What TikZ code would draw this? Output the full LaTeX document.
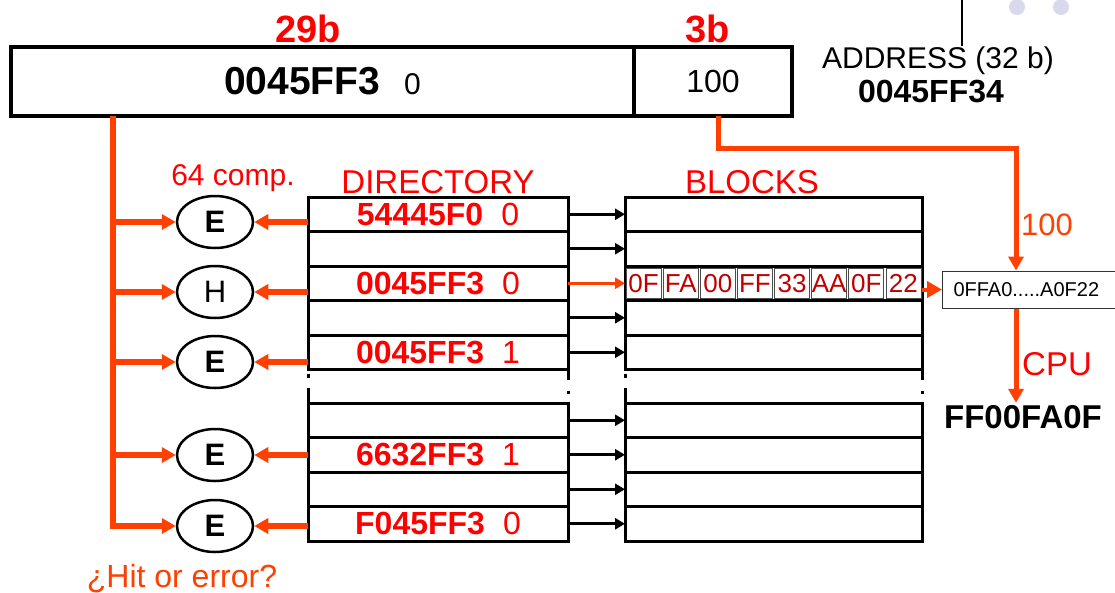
\documentclass[tikz,border=0pt]{standalone}
\usepackage{fontspec}
\setmainfont{Liberation Sans}
\usepackage{tikz}
\usetikzlibrary{arrows.meta,positioning,shapes.geometric}
\definecolor{wireorange}{HTML}{FF4000}
\definecolor{tagred}{HTML}{FF0000}
\definecolor{bytered}{HTML}{C00000}
\definecolor{dotlilac}{HTML}{D9D9EE}
\newcommand{\pxsize}[1]{\fontsize{#1}{#1}\selectfont}
\newcommand{\direntry}[2]{{\bfseries #1}\hspace{18pt}{\pxsize{32}#2}}

\begin{document}
\begin{tikzpicture}[x=1pt,y=-1pt,>=Latex,
    addrcell/.style={draw,line width=4.5pt,minimum height=69pt,inner sep=0pt,outer sep=0pt},
    dirrow/.style={draw,line width=3pt,minimum width=260pt,minimum height=34.5pt,inner sep=0pt,outer sep=0pt,text=tagred,font=\pxsize{32}},
    blkrow/.style={dirrow,minimum width=297pt},
    cmp/.style={draw,ellipse,line width=2.5pt,minimum width=76pt,minimum height=52pt,inner sep=0pt,font=\pxsize{31}},
    bytecell/.style={draw=black!70,line width=0.8pt,minimum width=35pt,minimum height=30pt,inner sep=0pt,text=bytered,font=\pxsize{26}},
    lbl/.style={anchor=base,inner sep=0pt},
    hitline/.style={wireorange,line width=5.5pt,-{Triangle[length=14pt,width=15pt]}},
    ptr/.style={line width=3pt,-{Triangle[length=10pt,width=11pt]}}]
        \useasboundingbox[fill=white] (0,0) rectangle (1115,592);
        % address
        \node[addrcell,minimum width=623pt] (tag) at (322.5,81.5) {{\pxsize{39}\bfseries 0045FF3}\hspace{24pt}{\pxsize{30}0}};
        \node[addrcell,minimum width=158pt,right=0pt of tag,font=\pxsize{32}] (offs) {100};
        \node[lbl,text=tagred,font=\pxsize{38}\bfseries] (tagbits) at (308,42) {29b};
        \node[lbl,text=tagred,font=\pxsize{38}\bfseries] (offbits) at (708,42) {3b};
        \node[lbl,font=\pxsize{30}] (addr) at (938,68) {ADDRESS (32 b)};
        \node[lbl,font=\pxsize{32}\bfseries] (addrval) at (931,102) {0045FF34};
        \coordinate (lead) at (962,0);
        \draw[line width=2pt] (lead) -- (lead |- addr.north);
        \node[circle,fill=dotlilac,minimum size=16pt,inner sep=0pt] (dotA) at (1017,7) {};
        \node[circle,fill=dotlilac,minimum size=16pt,inner sep=0pt] (dotB) at (1061,7) {};
        % directory
        \node[dirrow] (d1) at (438,214.25) {\direntry{54445F0}{0}};
        \node[dirrow,below=0pt of d1] (d2) {};
        \node[dirrow,below=0pt of d2] (d3) {\direntry{0045FF3}{0}};
        \node[dirrow,below=0pt of d3] (d4) {};
        \node[dirrow,below=0pt of d4] (d5) {\direntry{0045FF3}{1}};
        \node[dirrow] (d6) at (438,420.25) {};
        \node[dirrow,below=0pt of d6] (d7) {\direntry{6632FF3}{1}};
        \node[dirrow,below=0pt of d7] (d8) {};
        \node[dirrow,below=0pt of d8] (d9) {\direntry{F045FF3}{0}};
        \node[lbl,text=tagred,font=\pxsize{33}] (dirhead) at (438,193) {DIRECTORY};
        \node[lbl,text=tagred,font=\pxsize{30}] (ncomp) at (233,185) {64 comp.};
        % blocks
        \foreach \i in {1,...,9}
          \node[blkrow,right=57pt of d\i] (k\i) {};
        \node[lbl,text=tagred,font=\pxsize{33}] (blkhead) at (752,193) {BLOCKS};
        \foreach \b [count=\i] in {0F,FA,00,FF,33,AA,0F,22}
          \node[bytecell,xshift={(\i-0.5)*37.125pt}] (byte\i) at (k3.west) {\b};
        \foreach \i in {1,2,4,5,6,7,8,9}
          \draw[ptr] (d\i) -- (k\i);
        \draw[ptr,wireorange,line width=2.5pt] (d3) -- (k3);
        \draw[line width=3pt,dash pattern=on 0pt off 4pt on 4pt off 10pt on 16pt] (d5.south west) -- (d6.north west);
        \draw[line width=3pt,dash pattern=on 0pt off 4pt on 4pt off 10pt on 16pt] (k5.south west) -- (k6.north west);
        \draw[line width=3pt,dash pattern=on 10pt off 11pt on 3pt off 10pt] (d5.south east) -- (d6.north east);
        \draw[line width=3pt,dash pattern=on 10pt off 11pt on 3pt off 10pt] (k5.south east) -- (k6.north east);
        % comparators
        \node[cmp] (c1) at (215,222) {\bfseries E};
        \node[cmp] (c2) at (215,292) {H};
        \node[cmp] (c3) at (215,362) {\bfseries E};
        \node[cmp] (c4) at (215,455) {\bfseries E};
        \node[cmp] (c5) at (215,526) {\bfseries E};
        \coordinate (tap) at ([xshift=102pt]tag.south west);
        \draw[hitline] (tap) |- (c5);
        \foreach \c in {c1,c2,c3,c4}
          \draw[hitline] (tap |- \c) -- (\c);
        \foreach \r/\c in {d1/c1,d3/c2,d5/c3,d7/c4,d9/c5}
          \draw[hitline] (\r.west |- \c) -- (\c);
        \node[lbl,text=wireorange,font=\pxsize{32}] (verdict) at (182,587) {¿Hit or error?};
        % word select
        \node[draw=black!80,line width=1pt,anchor=west,minimum height=37pt,text width=158pt,inner xsep=11pt,align=left,font=\pxsize{20}] (outbox) at (942,289.5) {0FFA0.....A0F22};
        \node[lbl,inner sep=2pt,font=\pxsize{33}\bfseries] (result) at (1023,428) {FF00FA0F};
        \coordinate (bend) at (1016,148);
        \draw[hitline,line width=5pt] ([xshift=5pt]offs.south) |- (bend) -- (bend |- outbox.north);
        \node[lbl,text=wireorange,font=\pxsize{31}] (selbits) at (1047,235) {100};
        \draw[wireorange,line width=4pt,-{Triangle[length=15pt,width=16pt]}] (k3.east |- outbox.west) -- (outbox.west);
        \draw[hitline,line width=5pt] (outbox.south -| bend) -- (bend |- result.north);
        \node[lbl,text=tagred,font=\pxsize{33}] (cpu) at (1057,375) {CPU};
      \end{tikzpicture}
\end{document}
